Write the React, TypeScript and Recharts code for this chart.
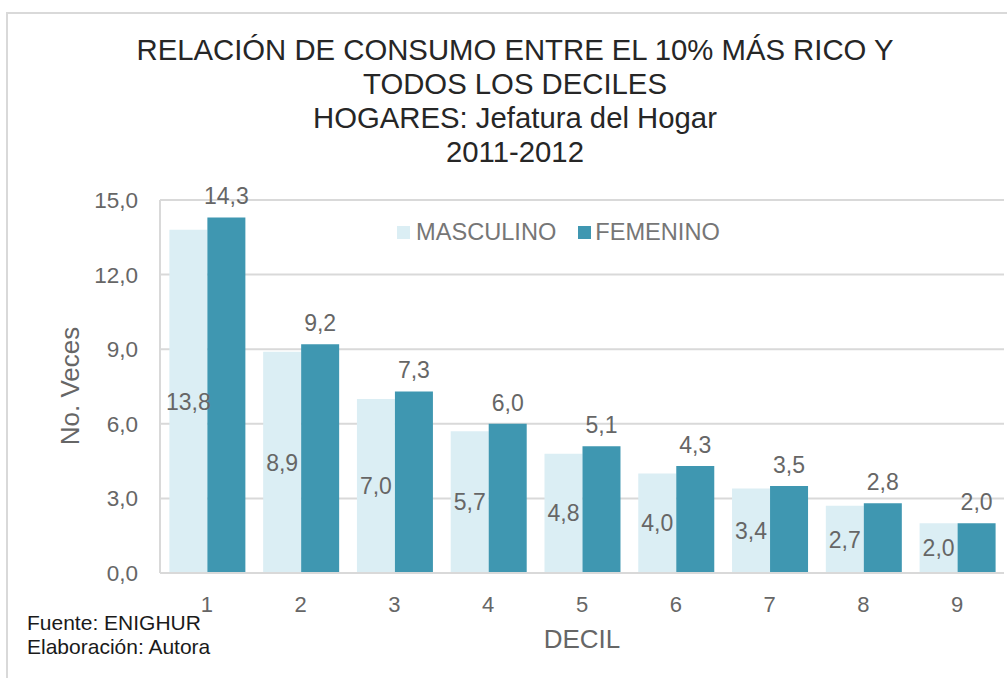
import React from "react";
import {
  Bar,
  BarChart,
  CartesianGrid,
  Label,
  LabelList,
  XAxis,
  YAxis,
} from "recharts";

const deciles = ["1", "2", "3", "4", "5", "6", "7", "8", "9"];
const masculino = [13.8, 8.9, 7.0, 5.7, 4.8, 4.0, 3.4, 2.7, 2.0];
const femenino = [14.3, 9.2, 7.3, 6.0, 5.1, 4.3, 3.5, 2.8, 2.0];
const yTicks = [0, 3, 6, 9, 12, 15];
const titleLines = [
  "RELACIÓN DE CONSUMO ENTRE EL 10% MÁS RICO Y",
  "TODOS LOS DECILES",
  "HOGARES: Jefatura del Hogar",
  "2011-2012",
];
const notes = ["Fuente: ENIGHUR", "Elaboración: Autora"];

const LIGHT = "#DBEEF4";
const DARK = "#3F97B1";
const GRID = "#d9d9d9";
const TEXT = "#666666";
const FONT = "'Liberation Sans', Arial, sans-serif";

const fmt = (v: any) => Number(v).toFixed(1).replace(".", ",");

export default function App() {
  const data = deciles.map((d, i) => ({
    decil: d,
    MASCULINO: masculino[i],
    FEMENINO: femenino[i],
  }));

  return (
    <div
      style={{
        position: "absolute",
        left: 0,
        top: 0,
        width: 1007,
        height: 678,
        overflow: "hidden",
        background: "#fff",
        fontFamily: FONT,
      }}
    >
      {/* chart frame, only top/left edges visible */}
      <div
        style={{
          position: "absolute",
          left: 6,
          top: 12,
          width: 1100,
          height: 1000,
          border: `2px solid ${GRID}`,
        }}
      />

      <div
        style={{
          position: "absolute",
          left: 15,
          top: 33,
          width: 1000,
          textAlign: "center",
          fontSize: 29.3,
          lineHeight: "34px",
          color: "#262626",
        }}
      >
        {titleLines.map((t) => (
          <div key={t}>{t}</div>
        ))}
      </div>

      <div style={{ position: "absolute", left: 0, top: 0 }}>
        <BarChart
          width={1007}
          height={678}
          data={data}
          margin={{ top: 200, right: 3, bottom: 25, left: 0 }}
          barCategoryGap="10%"
          barGap={0}
          style={{ fontFamily: FONT }}
        >
          <CartesianGrid vertical={false} stroke={GRID} strokeWidth={2} />
          <XAxis
            dataKey="decil"
            height={80}
            tickLine={false}
            tickSize={0}
            tickMargin={23}
            axisLine={{ stroke: GRID, strokeWidth: 2 }}
            tick={{ fill: TEXT, fontSize: 22 }}
          >
            <Label
              value="DECIL"
              position="insideBottom"
              offset={5}
              style={{ fill: TEXT, fontSize: 26 }}
            />
          </XAxis>
          <YAxis
            width={160}
            domain={[0, 15]}
            ticks={yTicks}
            tickFormatter={fmt}
            tickLine={false}
            tickSize={0}
            tickMargin={22}
            axisLine={{ stroke: GRID, strokeWidth: 2 }}
            tick={{ fill: TEXT, fontSize: 22.5 }}
          >
            <Label
              content={() => (
                <text
                  x={70}
                  y={386}
                  transform="rotate(-90 70 386)"
                  textAnchor="middle"
                  dominantBaseline="central"
                  fill={TEXT}
                  fontSize={26}
                >
                  No. Veces
                </text>
              )}
            />
          </YAxis>
          <Bar dataKey="MASCULINO" fill={LIGHT} isAnimationActive={false}>
            <LabelList
              dataKey="MASCULINO"
              position="center"
              formatter={fmt}
              fill={TEXT}
              fontSize={23}
            />
          </Bar>
          <Bar dataKey="FEMENINO" fill={DARK} isAnimationActive={false}>
            <LabelList
              dataKey="FEMENINO"
              position="top"
              offset={13}
              formatter={fmt}
              fill={TEXT}
              fontSize={23}
            />
          </Bar>
        </BarChart>
      </div>

      {/* legend */}
      <div
        style={{
          position: "absolute",
          left: 397,
          top: 218,
          display: "flex",
          alignItems: "center",
          fontSize: 23.6,
          lineHeight: "28px",
          color: "#767676",
        }}
      >
        <span style={{ width: 13, height: 13, background: LIGHT, marginRight: 6 }} />
        <span style={{ marginRight: 22 }}>MASCULINO</span>
        <span style={{ width: 13, height: 13, background: DARK, marginRight: 4 }} />
        <span>FEMENINO</span>
      </div>

      <div
        style={{
          position: "absolute",
          left: 27,
          top: 611,
          fontSize: 21,
          lineHeight: "24px",
          color: "#1a1a1a",
        }}
      >
        {notes.map((n) => (
          <div key={n}>{n}</div>
        ))}
      </div>
    </div>
  );
}
